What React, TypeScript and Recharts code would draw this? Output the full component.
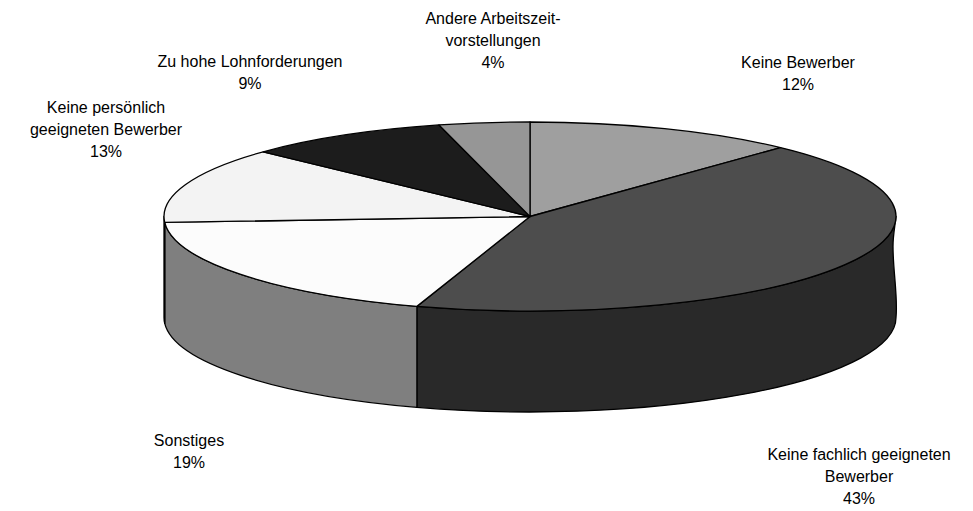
import React from 'react';
import { PieChart, Pie } from 'recharts';

const categories = ['Keine Bewerber', 'Keine fachlich geeigneten Bewerber', 'Sonstiges', 'Keine persönlich geeigneten Bewerber', 'Zu hohe Lohnforderungen', 'Andere Arbeitszeitvorstellungen'];
const shares = [12, 43, 19, 13, 9, 4];
const labelLines = [
  ['Keine Bewerber', '12%'],
  ['Keine fachlich geeigneten', 'Bewerber', '43%'],
  ['Sonstiges', '19%'],
  ['Keine persönlich', 'geeigneten Bewerber', '13%'],
  ['Zu hohe Lohnforderungen', '9%'],
  ['Andere Arbeitszeit-', 'vorstellungen', '4%'],
];

const topColors = ['#9f9f9f', '#4d4d4d', '#fcfcfc', '#f3f3f3', '#1c1c1c', '#969696'];
const sideColors = ['#505050', '#292929', '#7f7f7f', '#7f7f7f', '#0e0e0e', '#4b4b4b'];
const labelX = [798, 859, 189, 106, 250, 493];
const labelY = [68, 460, 446, 113, 67, 24];

const data = categories.map((name, i) => ({ name, value: shares[i] }));

const FLATTEN = 94.5 / 366;
const DEPTH = 101;
const RAD = Math.PI / 180;

const pt = (cx: number, cy: number, rx: number, a: number) => ({
  x: cx + rx * Math.cos(a * RAD),
  y: cy - rx * FLATTEN * Math.sin(a * RAD),
});

const Slice = (props: any) => {
  const { cx, cy, outerRadius: rx, startAngle, endAngle, fill, index } = props;
  const ry = rx * FLATTEN;
  const s = pt(cx, cy, rx, startAngle);
  const e = pt(cx, cy, rx, endAngle);
  const large = Math.abs(startAngle - endAngle) > 180 ? 1 : 0;
  const top = `M${cx},${cy} L${s.x},${s.y} A${rx},${ry} 0 ${large} 1 ${e.x},${e.y} Z`;

  // only the front half of the rim has a visible side
  const a1 = Math.min(startAngle, 0);
  const a2 = Math.max(endAngle, -180);
  let side = null;
  if (a1 > a2) {
    const p1 = pt(cx, cy, rx, a1);
    const p2 = pt(cx, cy, rx, a2);
    const lg = a1 - a2 > 180 ? 1 : 0;
    let d = `M${p1.x},${p1.y} A${rx},${ry} 0 ${lg} 1 ${p2.x},${p2.y} L${p2.x},${p2.y + DEPTH} A${rx},${ry} 0 ${lg} 0 ${p1.x},${p1.y + DEPTH}`;
    // the right edge is slightly pinched in the original
    if (a1 === 0) {
      d += ` C${p1.x + 2},${p1.y + 80} ${p1.x - 3},${p1.y + 55} ${p1.x - 3},${p1.y + 30} C${p1.x - 3},${p1.y + 18} ${p1.x - 1},${p1.y + 10} ${p1.x},${p1.y}`;
    }
    side = <path d={d + ' Z'} fill={sideColors[index]} stroke="#000" strokeWidth={1.3} strokeLinejoin="round" />;
  }

  return (
    <g>
      {side}
      <path d={top} fill={fill} stroke="#000" strokeWidth={1.3} strokeLinejoin="round" />
    </g>
  );
};

const SliceLabel = (props: any) => {
  const { index } = props;
  return (
    <text x={labelX[index]} y={labelY[index]} textAnchor="middle" fontSize={16} fill="#000" fontFamily="'Liberation Sans', Arial, sans-serif">
      {labelLines[index].map((line, i) => (
        <tspan key={i} x={labelX[index]} dy={i === 0 ? 0 : 22}>{line}</tspan>
      ))}
    </text>
  );
};

export default function App() {
  return (
    <div style={{ position: 'absolute', left: 0, top: 0, width: 973, height: 511, background: '#fff' }}>
      <PieChart width={973} height={511} margin={{ top: 0, right: 0, bottom: 0, left: 0 }}>
        <Pie
          data={data}
          dataKey="value"
          nameKey="name"
          cx={530}
          cy={216.5}
          innerRadius={0}
          outerRadius={366}
          startAngle={90}
          endAngle={-270}
          paddingAngle={0}
          stroke="none"
          isAnimationActive={false}
          shape={(p: any) => <Slice {...p} fill={topColors[p.index]} />}
          label={SliceLabel}
          labelLine={false}
        />
      </PieChart>
    </div>
  );
}
